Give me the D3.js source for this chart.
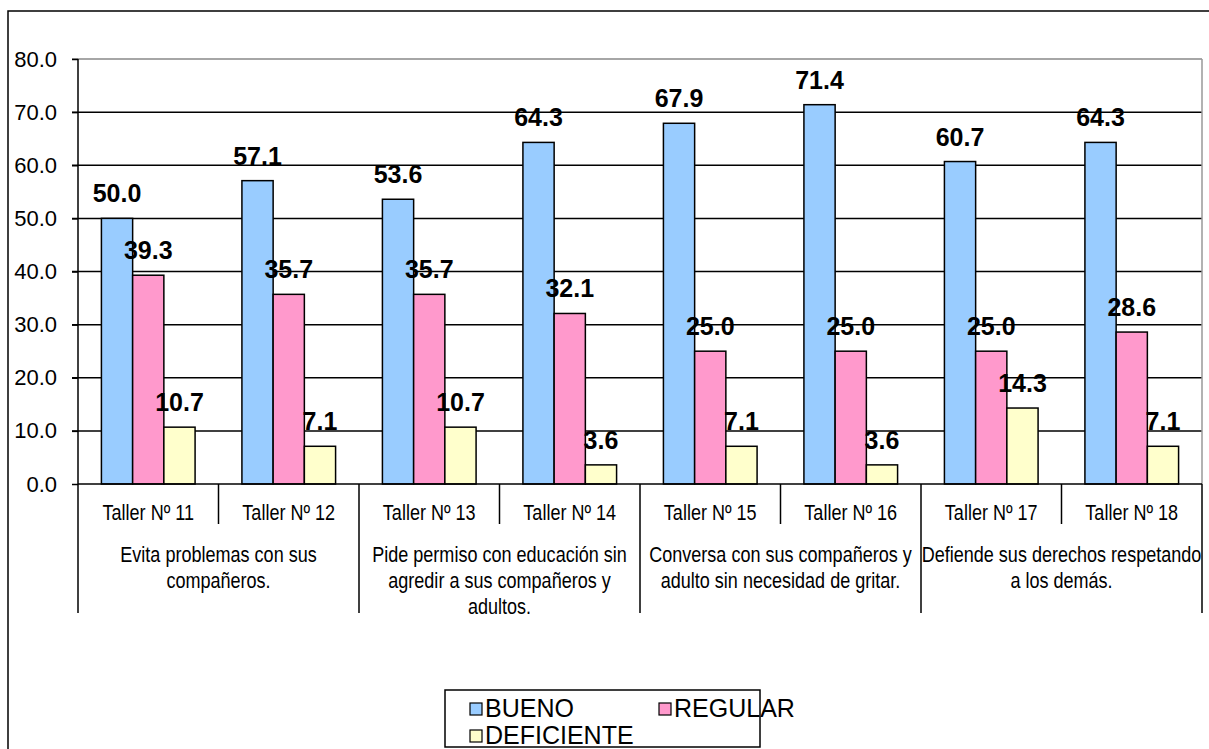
<!DOCTYPE html>
<html>
<head>
<meta charset="utf-8">
<script src="https://cdn.jsdelivr.net/npm/d3@7"></script>
<style>
  body { margin: 0; background: #fff; }
  svg { display: block; }
</style>
</head>
<body>
<div id="chart"></div>
<script>
// data
const talleres = ["Taller Nº 11", "Taller Nº 12", "Taller Nº 13", "Taller Nº 14",
                  "Taller Nº 15", "Taller Nº 16", "Taller Nº 17", "Taller Nº 18"];
const grupos = [
  ["Evita problemas con sus", "compañeros."],
  ["Pide permiso con educación sin", "agredir a sus compañeros y", "adultos."],
  ["Conversa con sus compañeros y", "adulto sin necesidad de gritar."],
  ["Defiende sus derechos respetando", "a los demás."]
];
const series = ["BUENO", "REGULAR", "DEFICIENTE"];
const bueno = [50.0, 57.1, 53.6, 64.3, 67.9, 71.4, 60.7, 64.3];
const regular = [39.3, 35.7, 35.7, 32.1, 25.0, 25.0, 25.0, 28.6];
const deficiente = [10.7, 7.1, 10.7, 3.6, 7.1, 3.6, 14.3, 7.1];
const yTicks = [0, 10, 20, 30, 40, 50, 60, 70, 80];
const colors = ["#99CCFF", "#FF99CC", "#FFFFCC"];

const W = 1209, H = 749;
const plotL = 78, plotR = 1202, plotT = 59, base = 484;
// the category texts are set in a narrow face; squeeze the regular one
const narrow = 0.82;

const svg = d3.select("#chart").append("svg")
  .attr("width", W).attr("height", H)
  .style("font-family", "'Liberation Sans', Arial, sans-serif");

// outer chart border (runs off the right / bottom edge)
svg.append("rect")
  .attr("x", 8).attr("y", 11)
  .attr("width", W + 20).attr("height", H + 20)
  .attr("fill", "#fff").attr("stroke", "#000").attr("stroke-width", 1.5);

const x0 = d3.scaleBand().domain(talleres).range([plotL, plotR]);
const x1 = d3.scaleBand().domain(series).range([0, x0.bandwidth()]).paddingOuter(0.75);
const y = d3.scaleLinear().domain([0, 80]).range([base, plotT]);
const color = d3.scaleOrdinal().domain(series).range(colors);

// grid lines
svg.append("g").selectAll("line")
  .data(yTicks.filter(d => d > 0))
  .join("line")
  .attr("x1", plotL - 6).attr("x2", plotR)
  .attr("y1", d => y(d)).attr("y2", d => y(d))
  .attr("stroke", d => d === 80 ? "#888" : "#000")
  .attr("stroke-width", 1.5);

// plot right border
svg.append("line")
  .attr("x1", plotR).attr("x2", plotR).attr("y1", plotT).attr("y2", base)
  .attr("stroke", "#999").attr("stroke-width", 1.5);

// y axis
const yAxis = svg.append("g")
  .attr("transform", `translate(${plotL},0)`)
  .call(d3.axisLeft(y).tickValues(yTicks).tickFormat(d3.format(".1f"))
        .tickSize(6).tickPadding(15));
yAxis.select(".domain").remove();
yAxis.selectAll(".tick line").attr("stroke", "#000").attr("stroke-width", 1.5);
yAxis.selectAll(".tick text")
  .attr("fill", "#000").style("font-size", "22px")
  .style("font-family", "'Liberation Sans', Arial, sans-serif");

// bars
const rows = talleres.map((t, i) => ({
  taller: t,
  vals: [bueno[i], regular[i], deficiente[i]].map((v, k) => ({ s: series[k], v: v }))
}));

const grp = svg.append("g").selectAll("g")
  .data(rows)
  .join("g")
  .attr("transform", d => `translate(${x0(d.taller)},0)`);

grp.selectAll("rect")
  .data(d => d.vals)
  .join("rect")
  .attr("x", d => x1(d.s))
  .attr("y", d => y(d.v))
  .attr("width", x1.bandwidth())
  .attr("height", d => base - y(d.v))
  .attr("fill", d => color(d.s))
  .attr("stroke", "#000").attr("stroke-width", 1.5);

grp.selectAll("text")
  .data(d => d.vals)
  .join("text")
  .attr("x", d => x1(d.s) + x1.bandwidth() / 2)
  .attr("y", d => y(d.v) - 16)
  .attr("text-anchor", "middle")
  .style("font-size", "25px").style("font-weight", "bold")
  .text(d => d3.format(".1f")(d.v));

// baseline
svg.append("line")
  .attr("x1", plotL).attr("x2", plotR).attr("y1", base).attr("y2", base)
  .attr("stroke", "#000").attr("stroke-width", 1.5);

// category labels
const cat = svg.append("g");
cat.selectAll("text.tal")
  .data(talleres)
  .join("text")
  .attr("class", "tal")
  .attr("transform", d => `translate(${x0(d) + x0.bandwidth() / 2},520) scale(${narrow},1)`)
  .attr("text-anchor", "middle")
  .style("font-size", "22px")
  .text(d => d);

// short dividers between talleres inside a group
cat.selectAll("line.small")
  .data(talleres.filter((d, i) => i % 2 === 1))
  .join("line")
  .attr("class", "small")
  .attr("x1", d => x0(d)).attr("x2", d => x0(d))
  .attr("y1", base).attr("y2", 524)
  .attr("stroke", "#000").attr("stroke-width", 1.5);

// long dividers between groups (the first one is the axis line)
cat.selectAll("line.big")
  .data(d3.range(grupos.length + 1))
  .join("line")
  .attr("class", "big")
  .attr("x1", i => i < grupos.length ? x0(talleres[i * 2]) : plotR)
  .attr("x2", i => i < grupos.length ? x0(talleres[i * 2]) : plotR)
  .attr("y1", i => i === 0 ? plotT : base).attr("y2", 613)
  .attr("stroke", "#000").attr("stroke-width", 1.5);

// group labels
cat.selectAll("text.grp")
  .data(grupos)
  .join("text")
  .attr("class", "grp")
  .attr("text-anchor", "middle")
  .attr("transform", (d, i) => `translate(${x0(talleres[i * 2]) + x0.bandwidth()},0) scale(${narrow},1)`)
  .style("font-size", "22px")
  .each(function (lines) {
    d3.select(this).selectAll("tspan")
      .data(lines)
      .join("tspan")
      .attr("x", 0)
      .attr("y", (d, k) => 562 + k * 26)
      .text(d => d);
  });

// legend
const lg = svg.append("g");
lg.append("rect")
  .attr("x", 445).attr("y", 690).attr("width", 315).attr("height", 57)
  .attr("fill", "#fff").attr("stroke", "#000").attr("stroke-width", 1.5);
const legendPos = [[470, 703], [659, 703], [470, 730]];
const li = lg.selectAll("g.item")
  .data(series)
  .join("g")
  .attr("class", "item")
  .attr("transform", (d, i) => `translate(${legendPos[i][0]},${legendPos[i][1]})`);
li.append("rect")
  .attr("width", 12).attr("height", 12)
  .attr("fill", d => color(d)).attr("stroke", "#000").attr("stroke-width", 1.2);
li.append("text")
  .attr("x", 15).attr("y", 14)
  .style("font-size", "25px")
  .text(d => d);
</script>
</body>
</html>
